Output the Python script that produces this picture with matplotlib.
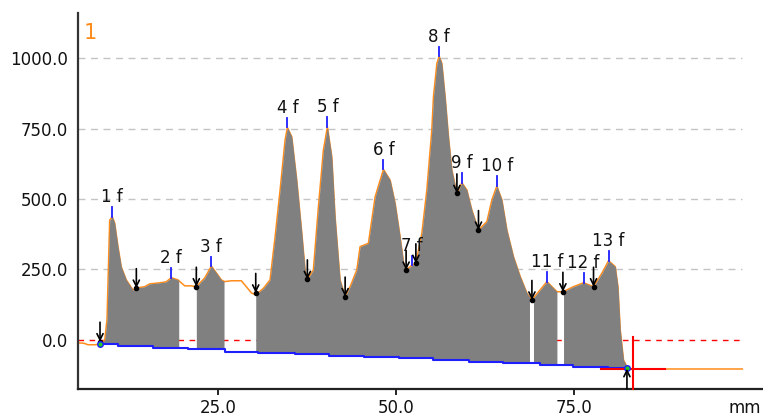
import numpy as np
import matplotlib
matplotlib.use('Agg')
import matplotlib.pyplot as plt

# ---- data ----
profile_x = [5.34, 6.2, 6.74, 7.72, 8.43, 9.09, 9.41, 9.79, 10.15, 10.49, 10.96, 11.42, 12.12, 13.06,
             13.53, 14.70, 15.41, 16.57, 17.70, 18.44, 19.38, 20.32, 21.21, 21.95, 23.13, 24.06,
             24.76, 25.46, 25.94, 26.87, 28.27, 28.97, 29.68, 30.29, 31.36, 32.30, 33.01, 33.71,
             34.41, 34.73, 35.35, 36.05, 36.76, 37.22, 37.54, 38.38, 39.09, 39.79, 40.35, 40.97,
             41.43, 42.13, 42.84, 43.54, 44.48, 44.94, 46.11, 47.05, 48.22, 49.16, 49.86, 50.56,
             51.12, 51.40, 52.21, 52.77, 53.61, 54.31, 55.01, 55.24, 55.72, 56.04, 56.42, 56.88,
             57.35, 57.82, 58.53, 59.23, 59.93, 60.63, 61.56, 62.74, 63.44, 64.14, 64.85, 65.55,
             66.48, 67.42, 68.36, 69.06, 71.17, 72.58, 73.41, 74.90, 76.31, 77.71, 78.89, 79.82,
             80.76, 81.14, 81.46, 81.92, 82.40, 83.0, 98.6]
profile_y = [-10, -12, -17, -17, -14, 0, 71, 425, 437, 415, 330, 259, 213, 177,
             184, 189, 199, 202, 206, 221, 213, 192, 192, 189, 220, 262,
             238, 213, 207, 210, 210, 189, 167, 160, 183, 213, 366, 532,
             709, 754, 721, 567, 379, 248, 215, 248, 473, 674, 756, 650,
             437, 213, 154, 189, 248, 331, 343, 508, 605, 567, 485, 366,
             260, 248, 265, 272, 378, 532, 745, 863, 981, 1007, 981, 863,
             721, 603, 520, 558, 532, 461, 390, 420, 497, 546, 497, 390,
             295, 225, 166, 142, 207, 171, 171, 189, 203, 189, 237, 281,
             260, 189, 36, -71, -95, -103, -103]

peak_labels = ['1 f', '2 f', '3 f', '4 f', '5 f', '6 f', '7 f', '8 f', '9 f', '10 f', '11 f', '12 f', '13 f']
peak_x = [10.15, 18.44, 24.06, 34.73, 40.35, 48.22, 52.21, 56.04, 59.23, 64.14, 71.17, 76.31, 79.82]
peak_y = [437, 221, 262, 754, 756, 605, 265, 1007, 558, 546, 207, 203, 281]

valley_x = [8.43, 13.53, 21.95, 30.29, 37.54, 42.84, 51.40, 52.77, 58.53, 61.56, 69.06, 73.41, 77.71]
valley_y = [-6, 184, 189, 167, 215, 154, 248, 272, 520, 390, 142, 171, 189]

base_x = [8.43, 10.96, 15.87, 20.79, 25.98, 30.62, 35.81, 40.59, 45.51, 50.42, 55.20,
          60.25, 65.03, 70.22, 74.86, 79.78, 82.40]
base_y = [-14, -20, -27, -33, -41, -46, -50, -56, -59, -65, -71, -77, -83, -90, -95, -98, -98]

fill_start = [8.43, 21.95, 30.29, 69.28, 73.50]
fill_end = [19.48, 25.84, 68.72, 72.57, 82.40]

yticks = [0, 250, 500, 750, 1000]
xticks = [25, 50, 75]

# ---- figure ----
fig = plt.figure(figsize=(7.63, 4.19), dpi=100)
ax = fig.add_axes([78/763, 30/419, 685/763, 376/419])
ax.set_xlim(5.34, 101.5)
ax.set_ylim(-174, 1160)

orange = '#ff8c1a'
gray = '#808080'
blue = '#1e1eff'

# gridlines
ax.hlines([250, 500, 750, 1000], 5.34, 98.6, colors='#c4c4c4', linestyles=(0, (5, 4)), lw=1, zorder=1)
ax.hlines([0], 5.34, 98.6, colors='red', linestyles=(0, (4, 4)), lw=1, zorder=1)

# profile line
ax.plot(profile_x, profile_y, color=orange, lw=1.1, zorder=2)

bx = np.array(base_x)
by = np.array(base_y)


def base_at(x):
    idx = np.clip(np.searchsorted(bx, x, side='right') - 1, 0, len(bx) - 1)
    return by[idx]


for s, e in zip(fill_start, fill_end):
    xs = np.linspace(s, e, 500)
    ys = np.interp(xs, profile_x, profile_y)
    ax.fill_between(xs, base_at(xs), ys, color=gray, lw=0, zorder=3)

# baseline
ax.step(base_x, base_y, where='post', color=blue, lw=1.5, zorder=4)

# red markers near the end
ax.plot([78.7, 87.8], [-103, -103], color='red', lw=1.5, zorder=4)
ax.plot([83.29, 83.29], [10, -174], color='red', lw=1.5, zorder=4, clip_on=False)

# peak ticks and labels
for lab, x, y in zip(peak_labels, peak_x, peak_y):
    ax.plot([x, x], [y, y + 34], color=blue, lw=1.3, zorder=5)
    ax.annotate(lab, xy=(x, y), xytext=(0, 10.5), textcoords='offset points',
                ha='center', va='baseline', fontsize=12, color='#111111', zorder=6)

# valley arrows
for x, y in zip(valley_x, valley_y):
    ax.annotate('', xy=(x, y), xytext=(0, 14), textcoords='offset points',
                arrowprops=dict(arrowstyle='->', color='black', lw=1.2,
                                shrinkA=0, shrinkB=0, mutation_scale=11), zorder=6)
    ax.plot(x, y, 'o', color='black', ms=3, zorder=6)

# start / end points
ax.plot(8.43, -14, 'o', color='#22cc22', mec=blue, ms=4, mew=1, zorder=7)
ax.plot(82.40, -98, 'o', color='#22cc22', mec=blue, ms=4, mew=1, zorder=7)
ax.annotate('', xy=(82.40, -102), xytext=(82.40, -174),
            arrowprops=dict(arrowstyle='->', color='black', lw=1.2, shrinkA=0, shrinkB=0,
                            mutation_scale=11), zorder=7, annotation_clip=False)

# axes styling
for sp in ['top', 'right']:
    ax.spines[sp].set_visible(False)
ax.spines['left'].set_color('#333333')
ax.spines['bottom'].set_color('#222222')
ax.spines['left'].set_linewidth(1.6)
ax.spines['bottom'].set_linewidth(1.6)

ax.set_yticks(yticks)
ax.set_yticklabels([f'{v:.1f}' for v in yticks])
ax.set_xticks(xticks)
ax.set_xticklabels([f'{v:.1f}' for v in xticks])
ax.tick_params(axis='y', length=0, pad=7, labelsize=12, labelcolor='#111111')
ax.tick_params(axis='x', length=4, width=1.2, pad=3, labelsize=12, labelcolor='#111111')

fig.text(90/763, 1 - 33/419, '1', color=orange, fontsize=15, ha='center', va='center')
fig.text(745/763, 1 - 408/419, 'mm', color='#111111', fontsize=12, ha='center', va='center')

fig.savefig('out.png', dpi=100)
